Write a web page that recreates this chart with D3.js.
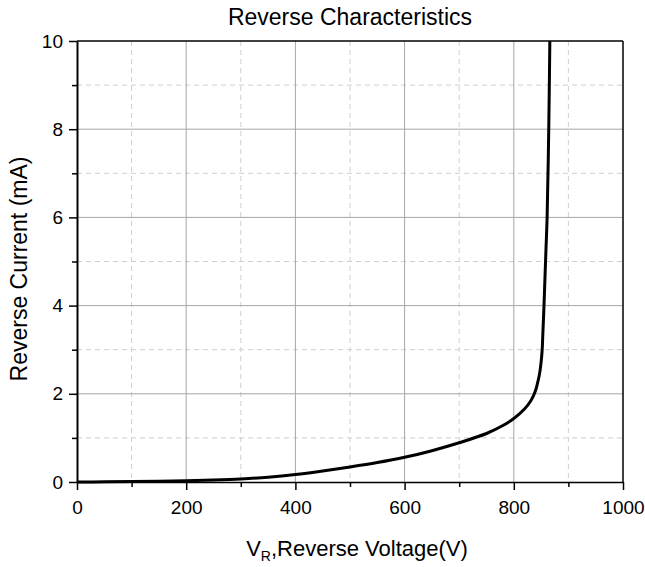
<!DOCTYPE html>
<html>
<head>
<meta charset="utf-8">
<script src="https://cdn.jsdelivr.net/npm/d3@7"></script>
<style>
  html, body { margin: 0; padding: 0; background: #fff; }
  svg { display: block; font-family: "Liberation Sans", Arial, sans-serif; }
</style>
</head>
<body>
<svg id="chart" width="645" height="567"></svg>
<script>
// ---- data ----
const voltage = [0, 50, 100, 150, 200, 250, 300, 350, 400, 450, 500, 550, 600, 650, 700, 750, 780, 800, 820, 830, 835, 840, 843, 846, 848, 850, 852, 853, 855, 857, 859, 861, 864, 866];
const current = [0, 0.004, 0.01, 0.018, 0.03, 0.046, 0.07, 0.11, 0.17, 0.25, 0.34, 0.44, 0.56, 0.71, 0.89, 1.10, 1.28, 1.44, 1.66, 1.82, 1.93, 2.08, 2.22, 2.38, 2.52, 2.72, 3.0, 3.3, 3.9, 4.6, 5.3, 6.0, 8.0, 10.0];
const xMajorTicks = [0, 200, 400, 600, 800, 1000];
const xMinorTicks = [100, 300, 500, 700, 900];
const yMajorTicks = [0, 2, 4, 6, 8, 10];
const yMinorTicks = [1, 3, 5, 7, 9];
const titleText = "Reverse Characteristics";
const yLabelText = "Reverse Current (mA)";

// ---- layout ----
const svg = d3.select("#chart");
const L = 77, R = 623, T = 41, B = 482;
const x = d3.scaleLinear().domain([0, 1000]).range([L, R]);
const y = d3.scaleLinear().domain([0, 10]).range([B, T]);

// grid
const grid = svg.append("g");
grid.selectAll(".xmin").data(xMinorTicks).join("line")
  .attr("x1", d => x(d)).attr("x2", d => x(d)).attr("y1", T).attr("y2", B)
  .attr("stroke", "#cfcfcf").attr("stroke-width", 1).attr("stroke-dasharray", "5,4");
grid.selectAll(".ymin").data(yMinorTicks).join("line")
  .attr("y1", d => y(d)).attr("y2", d => y(d)).attr("x1", L).attr("x2", R)
  .attr("stroke", "#cfcfcf").attr("stroke-width", 1).attr("stroke-dasharray", "5,4");
grid.selectAll(".xmaj").data(xMajorTicks.filter(d => d > 0 && d < 1000)).join("line")
  .attr("x1", d => x(d)).attr("x2", d => x(d)).attr("y1", T).attr("y2", B)
  .attr("stroke", "#a6a6a6").attr("stroke-width", 1);
grid.selectAll(".ymaj").data(yMajorTicks.filter(d => d > 0 && d < 10)).join("line")
  .attr("y1", d => y(d)).attr("y2", d => y(d)).attr("x1", L).attr("x2", R)
  .attr("stroke", "#a6a6a6").attr("stroke-width", 1);

// frame top/right
svg.append("line").attr("x1", L).attr("x2", R).attr("y1", T).attr("y2", T)
  .attr("stroke", "#000").attr("stroke-width", 1.5);
svg.append("line").attr("x1", R).attr("x2", R).attr("y1", T).attr("y2", B)
  .attr("stroke", "#000").attr("stroke-width", 1.5);

// curve
const line = d3.line().x((d, i) => x(voltage[i])).y((d, i) => y(current[i])).curve(d3.curveCatmullRom.alpha(0.5));
svg.append("path").datum(current).attr("d", line)
  .attr("fill", "none").attr("stroke", "#000").attr("stroke-width", 3)
  .attr("stroke-linejoin", "round");

// axes
const xAxis = svg.append("g").attr("transform", `translate(0,${B})`)
  .call(d3.axisBottom(x).tickValues(xMajorTicks).tickSize(8).tickSizeOuter(0).tickPadding(11).tickFormat(d3.format("d")));
const xMinor = svg.append("g").attr("transform", `translate(0,${B})`)
  .call(d3.axisBottom(x).tickValues(xMinorTicks).tickSize(5).tickSizeOuter(0).tickFormat(""));
const yAxis = svg.append("g").attr("transform", `translate(${L},0)`)
  .call(d3.axisLeft(y).tickValues(yMajorTicks).tickSize(8).tickSizeOuter(0).tickPadding(6).tickFormat(d3.format("d")));
const yMinor = svg.append("g").attr("transform", `translate(${L},0)`)
  .call(d3.axisLeft(y).tickValues(yMinorTicks).tickSize(5).tickSizeOuter(0).tickFormat(""));
[xAxis, xMinor, yAxis, yMinor].forEach(g => {
  g.selectAll(".tick line").attr("stroke", "#000").attr("stroke-width", 1.5);
  g.selectAll(".tick text").attr("fill", "#000").style("font-size", "19px")
    .style("font-family", '"Liberation Sans", Arial, sans-serif');
});
xMinor.select(".domain").remove();
yMinor.select(".domain").remove();
xAxis.select(".domain").attr("stroke", "#000").attr("stroke-width", 1.5);
yAxis.select(".domain").attr("stroke", "#000").attr("stroke-width", 2);

// title
svg.append("text").attr("x", 350).attr("y", 25).attr("text-anchor", "middle")
  .style("font-size", "23px").attr("fill", "#000").text(titleText);

// x label with subscript
const xl = svg.append("text").attr("x", 357).attr("y", 556).attr("text-anchor", "middle")
  .style("font-size", "22px").attr("fill", "#000");
xl.append("tspan").text("V");
xl.append("tspan").attr("dy", 5).style("font-size", "14px").text("R");
xl.append("tspan").attr("dy", -5).text(",Reverse Voltage(V)");

// y label
svg.append("text").attr("transform", "translate(27,269) rotate(-90)").attr("text-anchor", "middle")
  .style("font-size", "23px").attr("fill", "#000").text(yLabelText);
</script>
</body>
</html>
